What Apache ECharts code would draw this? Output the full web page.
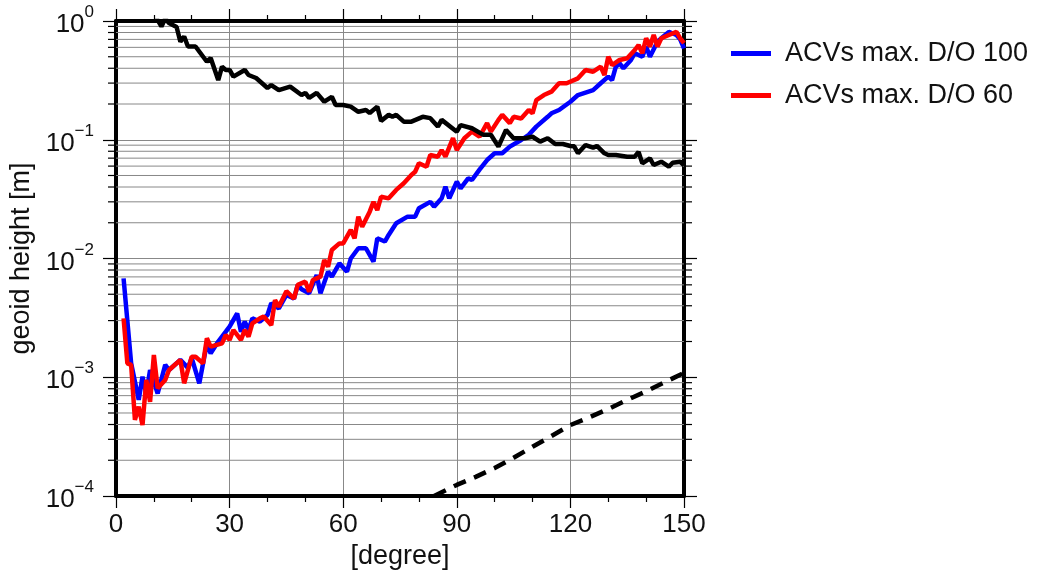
<!DOCTYPE html>
<html><head><meta charset="utf-8">
<script src="https://cdn.jsdelivr.net/npm/echarts@6/dist/echarts.min.js"></script>
<style>html,body{margin:0;padding:0;background:#fff}#c{width:1040px;height:576px}</style>
</head><body><div id="c"></div>
<script>
const FONT = 'Liberation Sans';
const xTickInterval = 30;
const yMinorValues = [];
[1e-4,1e-3,1e-2,1e-1].forEach(d => { for (let k = 2; k <= 9; k++) yMinorValues.push(+(k*d).toPrecision(3)); });

const blueDeg = [2,4,6,7,8,9,11,13,14,17,19,20,22,24,25,27,29,30,32,33,34,35,36,38,40,41,43,45,47,48,49,51,53,54,56,57,59,61,62,64,66,68,69,71,72,74,77,79,80,83,84,86,87,88,90,91,93,94,96,98,100,102,104,107,109,111,114,115,117,120,122,126,128,130,131,132,133,134,136,137,139,140,141,143,144,146,148,149,150];
const blueVal = [6.8e-3,1.31e-3,6.45e-4,1.01e-3,7.3e-4,1.15e-3,7.3e-4,1.27e-3,1.15e-3,1.4e-3,1.2e-3,1.45e-3,8.9e-4,1.93e-3,1.59e-3,2.0e-3,2.42e-3,2.67e-3,3.45e-3,2.42e-3,2.94e-3,2.5e-3,3.13e-3,2.94e-3,3.34e-3,4.2e-3,3.8e-3,4.93e-3,4.6e-3,5.98e-3,5.5e-3,5.1e-3,7.26e-3,5.1e-3,7.74e-3,7.03e-3,9.1e-3,7.74e-3,1.0e-2,1.22e-2,1.22e-2,9.4e-3,1.48e-2,1.39e-2,1.58e-2,1.98e-2,2.25e-2,2.25e-2,2.65e-2,3.0e-2,2.73e-2,3.21e-2,4.03e-2,3.21e-2,4.43e-2,3.9e-2,4.73e-2,4.58e-2,5.6e-2,6.75e-2,7.69e-2,7.69e-2,8.75e-2,9.95e-2,0.11,0.129,0.156,0.167,0.178,0.209,0.238,0.262,0.299,0.34,0.318,0.412,0.44,0.4,0.47,0.535,0.5,0.61,0.5,0.67,0.715,0.81,0.762,0.7,0.589];

const redDeg = [2,3,4,5,6,7,8,9,10,11,13,14,17,18,20,21,23,24,25,28,29,30,31,33,34,35,36,38,39,41,42,43,45,47,48,50,51,52,54,55,56,57,59,60,62,63,64,65,67,68,69,70,72,74,76,78,79,80,82,83,85,86,87,89,90,92,94,96,98,99,101,102,104,105,107,109,110,111,113,115,117,119,122,124,126,128,129,130,131,133,135,137,138,139,140,141,142,143,144,146,148,149,150];
const redVal = [3.13e-3,1.31e-3,1.27e-3,4.37e-4,5.65e-4,3.96e-4,9.5e-4,6.2e-4,1.54e-3,8.07e-4,9.5e-4,1.15e-3,1.4e-3,8.9e-4,1.49e-3,1.49e-3,1.31e-3,2.13e-3,1.81e-3,1.93e-3,2.27e-3,2.06e-3,2.5e-3,2.06e-3,2.5e-3,2.2e-3,2.84e-3,3.13e-3,3.24e-3,2.75e-3,4.47e-3,3.93e-3,5.3e-3,4.6e-3,6.0e-3,6.38e-3,5.25e-3,6.59e-3,7.03e-3,9.7e-3,8.53e-3,1.18e-2,1.34e-2,1.34e-2,1.74e-2,1.48e-2,2.25e-2,1.85e-2,2.48e-2,3.0e-2,2.56e-2,3.31e-2,3.21e-2,3.78e-2,4.3e-2,5.05e-2,5.38e-2,6.34e-2,5.93e-2,7.44e-2,7.2e-2,8.2e-2,7.2e-2,0.103,8.2e-2,0.103,0.117,0.106,0.138,0.117,0.147,0.162,0.138,0.156,0.151,0.178,0.167,0.216,0.238,0.254,0.299,0.299,0.329,0.387,0.374,0.412,0.351,0.5,0.426,0.47,0.485,0.57,0.628,0.535,0.715,0.61,0.762,0.61,0.715,0.762,0.81,0.715,0.65];

const blackDeg = [8,10,12,13,14,16,17,18,19,21,24,25,27,28,29,30,31,34,35,37,40,41,43,46,49,50,51,53,55,57,58,60,62,64,66,67,69,70,72,73,74,76,78,81,83,85,86,90,91,94,97,99,101,103,105,108,110,112,114,116,118,120,121,122,124,126,127,129,130,132,135,137,138,139,141,142,144,146,147,149,150];
const blackVal = [1.4,1.15,0.9,1.05,0.96,0.89,0.67,0.74,0.61,0.61,0.454,0.488,0.318,0.412,0.387,0.387,0.34,0.387,0.351,0.331,0.273,0.289,0.262,0.28,0.238,0.248,0.225,0.248,0.209,0.23,0.196,0.196,0.19,0.172,0.178,0.168,0.19,0.144,0.162,0.156,0.162,0.142,0.142,0.156,0.152,0.129,0.147,0.117,0.133,0.125,0.11,0.11,0.0875,0.121,0.103,0.103,0.106,0.0964,0.103,0.092,0.092,0.0886,0.088,0.077,0.0903,0.0857,0.0886,0.0769,0.0744,0.0744,0.072,0.072,0.079,0.0633,0.0698,0.0613,0.0653,0.0593,0.064,0.0653,0.061];

const dashDeg = [84,90,95,100,105,110,115,120,125,130,135,140,145,150];
const dashVal = [1.0e-4,1.24e-4,1.45e-4,1.72e-4,2.1e-4,2.6e-4,3.2e-4,3.96e-4,4.6e-4,5.4e-4,6.45e-4,7.6e-4,9.1e-4,1.09e-3];

const legendNames = ['ACVs max. D/O 100', 'ACVs max. D/O 60'];

const zip = (a, b) => a.map((d, i) => [d, b[i]]);

function yLabel(v) {
  const e = Math.round(Math.log10(v));
  const s = e < 0 ? '\u2212' + (-e) : String(e);
  return '{b|10}{e|' + s + '}';
}

const xCommon = {
  type: 'value', min: 0, max: 150, interval: xTickInterval,
  axisLine: { show: true, onZero: false, lineStyle: { color: '#000', width: 4 } },
  axisTick: { show: true, inside: false, length: 12, lineStyle: { color: '#000', width: 1.2 } },
  minorTick: { show: true, splitNumber: 3, length: 6, lineStyle: { color: '#000', width: 1.2 } },
};
const yCommon = {
  type: 'log', logBase: 10, min: 1e-4, max: 1,
  axisLine: { show: true, onZero: false, lineStyle: { color: '#000', width: 4 } },
  axisTick: { show: true, inside: false, length: 13, lineStyle: { color: '#000', width: 1.2 } },
};

const chart = echarts.init(document.getElementById('c'), null, { renderer: 'canvas' });
chart.setOption({
  animation: false,
  backgroundColor: '#fff',
  textStyle: { fontFamily: FONT },
  grid: { left: 116, right: 356, top: 21, bottom: 80, containLabel: false, outerBoundsMode: 'none' },
  legend: {
    orient: 'vertical', left: 731, top: 40, padding: 0, itemGap: 15,
    icon: 'rect', itemWidth: 40, itemHeight: 5,
    data: legendNames,
    textStyle: { fontFamily: FONT, fontSize: 27, color: '#111', padding: [0, 0, 0, 9] }
  },
  xAxis: [
    Object.assign({}, xCommon, {
      position: 'bottom',
      name: '[degree]', nameLocation: 'middle', nameGap: 47,
      nameTextStyle: { fontFamily: FONT, fontSize: 27, color: '#111' },
      axisLabel: { show: true, margin: 16, fontSize: 26, color: '#111', fontFamily: FONT },
      splitLine: { show: true, lineStyle: { color: '#888', width: 1 } }
    }),
    Object.assign({}, xCommon, {
      position: 'top',
      axisLabel: { show: false },
      splitLine: { show: false }
    })
  ],
  yAxis: [
    Object.assign({}, yCommon, {
      position: 'left',
      name: 'geoid height [m]', nameLocation: 'middle', nameGap: 76, nameRotate: 90,
      nameTextStyle: { fontFamily: FONT, fontSize: 27, color: '#111' },
      axisLabel: {
        show: true, margin: 22, formatter: yLabel,
        rich: {
          b: { fontSize: 26, lineHeight: 34, color: '#111', fontFamily: FONT, verticalAlign: 'bottom' },
          e: { fontSize: 17, lineHeight: 17, color: '#111', fontFamily: FONT, verticalAlign: 'top' }
        }
      },
      splitLine: { show: true, lineStyle: { color: '#888', width: 1 } }
    }),
    Object.assign({}, yCommon, {
      position: 'right',
      axisLabel: { show: false },
      splitLine: { show: false }
    })
  ],
  series: [
    {
      type: 'custom', name: 'minor', coordinateSystem: 'cartesian2d', silent: true, z: 1,
      xAxisIndex: 0, yAxisIndex: 0, clip: false,
      data: yMinorValues.map(v => [0, v]),
      renderItem: function (params, api) {
        const v = api.value(1);
        const a = api.coord([0, v]);
        const b = api.coord([150, v]);
        return {
          type: 'group',
          children: [
            { type: 'line', shape: { x1: a[0], y1: a[1], x2: b[0], y2: b[1] }, style: { stroke: '#888', lineWidth: 1 } },
            { type: 'line', shape: { x1: a[0] - 8, y1: a[1], x2: a[0], y2: a[1] }, style: { stroke: '#000', lineWidth: 1.2 } },
            { type: 'line', shape: { x1: b[0], y1: b[1], x2: b[0] + 8, y2: b[1] }, style: { stroke: '#000', lineWidth: 1.2 } }
          ]
        };
      }
    },
    {
      type: 'line', name: legendNames[0], data: zip(blueDeg, blueVal), color: '#0000ff',
      symbol: 'none', lineStyle: { width: 4.5, color: '#0000ff' }, z: 3
    },
    {
      type: 'line', name: legendNames[1], data: zip(redDeg, redVal), color: '#ff0000',
      symbol: 'none', lineStyle: { width: 4.5, color: '#ff0000' }, z: 4
    },
    {
      type: 'line', name: 'signal', data: zip(blackDeg, blackVal), color: '#000',
      symbol: 'none', lineStyle: { width: 4.5, color: '#000' }, z: 5
    },
    {
      type: 'line', name: 'error', data: zip(dashDeg, dashVal), color: '#000',
      symbol: 'none', lineStyle: { width: 4.5, color: '#000', type: [13, 9] }, z: 5
    }
  ]
});
</script>
</body></html>
